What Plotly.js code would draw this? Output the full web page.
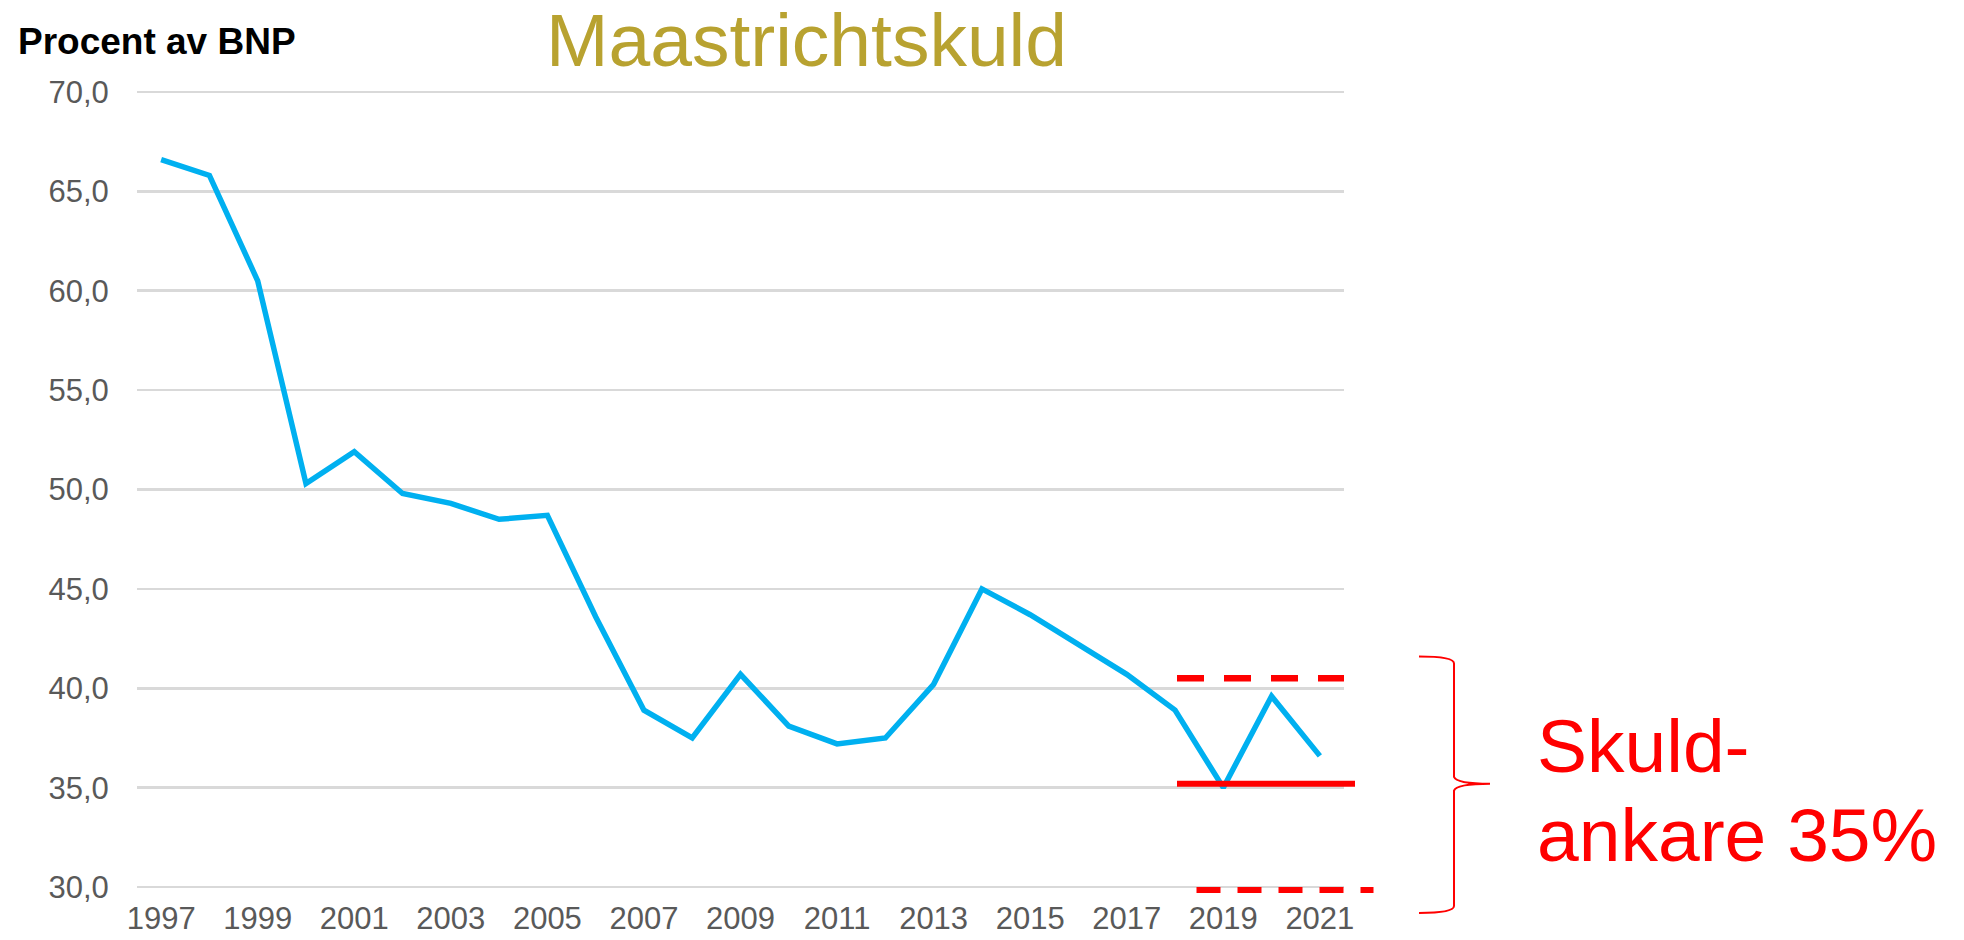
<!DOCTYPE html>
<html><head><meta charset="utf-8">
<script src="https://cdn.plot.ly/plotly-3.0.1.min.js"></script>
<style>html,body{margin:0;padding:0;background:#fff}#chart{width:1964px;height:940px}</style>
</head><body><div id="chart"></div>
<script>
// ---- data ----
const years = ['1997','1998','1999','2000','2001','2002','2003','2004','2005','2006','2007','2008','2009','2010','2011','2012','2013','2014','2015','2016','2017','2018','2019','2020','2021'];
const debt = [66.6,65.8,60.5,50.3,51.9,49.8,49.3,48.5,48.7,43.6,38.9,37.5,40.7,38.1,37.2,37.5,40.2,45.0,43.7,42.2,40.7,38.9,35.0,39.6,36.6];
const tickYears = ['1997','1999','2001','2003','2005','2007','2009','2011','2013','2015','2017','2019','2021'];
const yTicks = [30,35,40,45,50,55,60,65,70];
const yTickText = ['30,0','35,0','40,0','45,0','50,0','55,0','60,0','65,0','70,0'];
const anchorLevels = [40.5, 35.2, 29.85]; // upper tolerance, anchor, lower tolerance
const braceLevels = [41.6, 35.2, 28.7];   // brace top, tip, bottom

// ---- layout helpers ----
const W = 1964, H = 940, L = 137, R = 620, T = 86, B = 43;
const PW = W - L - R, PH = H - T - B;
const yMin = 29.5, yMax = 70.3;
const xp = px => (px - L) / PW;
const yp = py => (H - B - py) / PH;
const yv = v => (v - yMin) / (yMax - yMin); // data value -> paper y
const FONT = 'Liberation Sans, Arial, sans-serif';

const trace = {
  x: years, y: debt, type: 'scatter', mode: 'lines',
  line: {color: '#00B0F0', width: 5.5}, hoverinfo: 'x+y'
};

// brace path (paper coordinates)
const bx0 = xp(1419), bx1 = xp(1454), bx2 = xp(1490);
const bTop = yv(braceLevels[0]), bTip = yv(braceLevels[1]), bBot = yv(braceLevels[2]);
const d = 0.0085;
const bracePath =
  `M ${bx0},${bTop} Q ${bx1},${bTop} ${bx1},${bTop - d} ` +
  `L ${bx1},${bTip + d} Q ${bx1 + 0.002},${bTip} ${bx2},${bTip} ` +
  `Q ${bx1 + 0.002},${bTip} ${bx1},${bTip - d} ` +
  `L ${bx1},${bBot + d} Q ${bx1},${bBot} ${bx0},${bBot}`;

const layout = {
  width: W, height: H,
  margin: {l: L, r: R, t: T, b: B, pad: 0},
  paper_bgcolor: '#ffffff', plot_bgcolor: '#ffffff',
  showlegend: false,
  font: {family: FONT, color: '#595959'},
  title: {
    text: 'Maastrichtskuld',
    font: {family: FONT, size: 75, color: '#B8A230'},
    xref: 'container', x: 806.5 / W, xanchor: 'center',
    yref: 'container', y: 1 - 40 / H, yanchor: 'middle'
  },
  xaxis: {
    type: 'category', range: [-0.5, 24.5],
    tickmode: 'array', tickvals: tickYears, ticktext: tickYears,
    showgrid: false, zeroline: false, showline: false,
    ticks: '', ticklen: 0,
    tickfont: {family: FONT, size: 31, color: '#595959'},
    fixedrange: true
  },
  yaxis: {
    range: [yMin, yMax],
    tickmode: 'array', tickvals: yTicks, ticktext: yTickText,
    showgrid: true, gridcolor: '#D9D9D9', gridwidth: 2.5,
    zeroline: false, showline: false,
    ticks: 'outside', ticklen: 21, tickcolor: 'rgba(0,0,0,0)',
    tickfont: {family: FONT, size: 31, color: '#595959'},
    fixedrange: true
  },
  shapes: [
    {type: 'line', xref: 'paper', yref: 'y', x0: xp(1177), x1: xp(1344), y0: anchorLevels[0], y1: anchorLevels[0],
     line: {color: '#FF0000', width: 6.5, dash: '27px,20px'}},
    {type: 'line', xref: 'paper', yref: 'y', x0: xp(1177), x1: xp(1355), y0: anchorLevels[1], y1: anchorLevels[1],
     line: {color: '#FF0000', width: 6}},
    {type: 'line', xref: 'paper', yref: 'y', x0: xp(1196.5), x1: xp(1373.5), y0: anchorLevels[2], y1: anchorLevels[2],
     line: {color: '#FF0000', width: 6, dash: '24px,17px'}},
    {type: 'path', xref: 'paper', yref: 'paper', path: bracePath,
     line: {color: '#FF0000', width: 2}}
  ],
  annotations: [
    {text: '<b>Procent av BNP</b>', xref: 'paper', yref: 'paper', x: xp(16), y: yp(41),
     xanchor: 'left', yanchor: 'middle', showarrow: false,
     font: {family: FONT, size: 37, color: '#000000'}},
    {text: 'Skuld-', xref: 'paper', yref: 'paper', x: xp(1535), y: yp(745.8),
     xanchor: 'left', yanchor: 'middle', showarrow: false,
     font: {family: FONT, size: 75, color: '#FF0000'}},
    {text: 'ankare 35%', xref: 'paper', yref: 'paper', x: xp(1535), y: yp(835.2),
     xanchor: 'left', yanchor: 'middle', showarrow: false,
     font: {family: FONT, size: 75, color: '#FF0000'}}
  ]
};

Plotly.newPlot('chart', [trace], layout, {displayModeBar: false, staticPlot: true});
</script>
</body></html>
